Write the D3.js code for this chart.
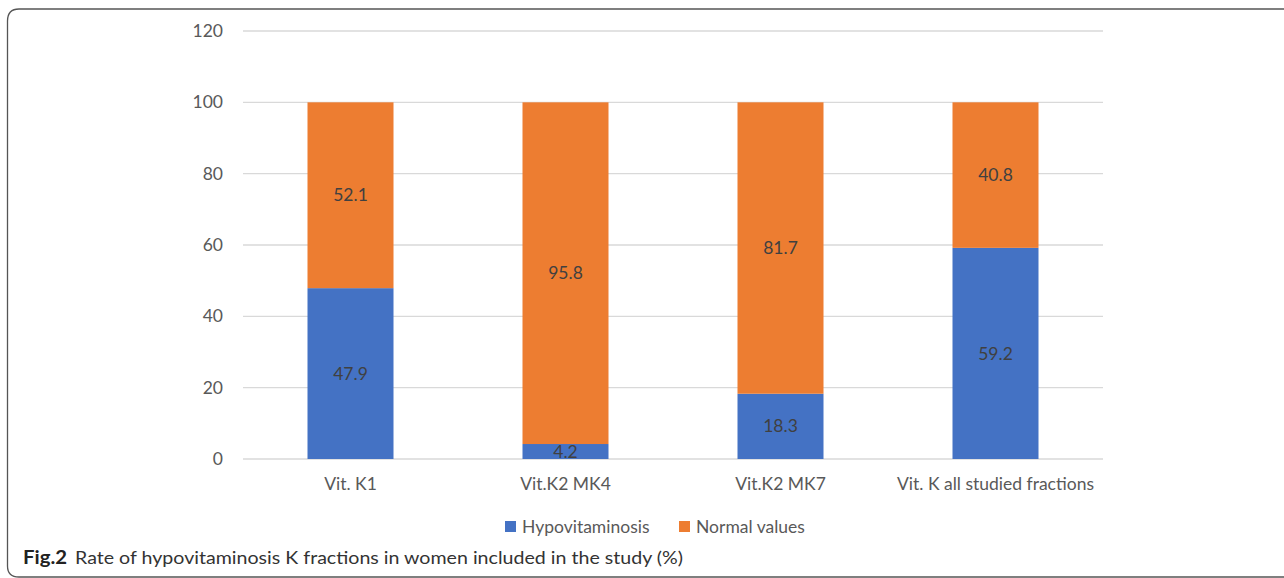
<!DOCTYPE html>
<html>
<head>
<meta charset="utf-8">
<script src="https://cdn.jsdelivr.net/npm/d3@7"></script>
<style>
  html, body { margin: 0; padding: 0; background: #fff; }
  svg { display: block; }
  text { font-family: Lato, "Open Sans", sans-serif; }
</style>
</head>
<body>
<div id="chart"></div>
<script>
// chart data
const categories = ['Vit. K1', 'Vit.K2 MK4', 'Vit.K2 MK7', 'Vit. K all studied fractions']
const hypovitaminosis = [47.9, 4.2, 18.3, 59.2]
const normalValues = [52.1, 95.8, 81.7, 40.8]
const seriesNames = ['Hypovitaminosis', 'Normal values']
const yTicks = [0, 20, 40, 60, 80, 100, 120]

const colors = {'Hypovitaminosis': '#4472C4', 'Normal values': '#ED7D31'}

const W = 1284, H = 578
const m = {l: 243, r: 181, t: 31, b: 119}   // plot area 243..1103, 31..459
const fs = '17.5px'

const svg = d3.select('#chart').append('svg')
    .attr('width', W).attr('height', H)

// frame around the figure (right edge runs off the picture)
svg.append('path')
    .attr('d', 'M1290,9 L19,9 Q7.5,9 7.5,21 L7.5,566 Q7.5,577 19,577 L1290,577')
    .attr('fill', 'none').attr('stroke', '#555').attr('stroke-width', 1.3)

const x = d3.scaleBand().domain(categories)
    .range([m.l, W - m.r]).paddingInner(0.6).paddingOuter(0.3)
const y = d3.scaleLinear().domain([0, 120]).range([H - m.b, m.t])

// gridlines
svg.append('g').selectAll('line').data(yTicks).enter().append('line')
    .attr('x1', m.l).attr('x2', W - m.r)
    .attr('y1', d => y(d)).attr('y2', d => y(d))
    .attr('stroke', '#d9d9d9').attr('stroke-width', 1.3)

// y axis labels
const yAxis = svg.append('g')
    .attr('transform', 'translate(' + (m.l - 20) + ',0)')
    .call(d3.axisLeft(y).tickValues(yTicks).tickSize(0).tickPadding(0))
yAxis.select('.domain').remove()
yAxis.selectAll('text')
    .attr('fill', '#595959').style('font-size', fs)

// stacked bars
const rows = categories.map((c, i) => ({cat: c, 'Hypovitaminosis': hypovitaminosis[i], 'Normal values': normalValues[i]}))
const stacked = d3.stack().keys(seriesNames)(rows)

const layers = svg.append('g').selectAll('g').data(stacked).enter().append('g')
    .attr('fill', d => colors[d.key])

layers.selectAll('rect').data(d => d).enter().append('rect')
    .attr('x', d => x(d.data.cat))
    .attr('width', x.bandwidth())
    .attr('y', d => y(d[1]))
    .attr('height', d => y(d[0]) - y(d[1]))

// value labels in segment centres
layers.selectAll('text').data(d => d.map(s => ({s, key: d.key}))).enter().append('text')
    .attr('x', d => x(d.s.data.cat) + x.bandwidth() / 2)
    .attr('y', d => y((d.s[0] + d.s[1]) / 2))
    .attr('dy', '0.35em')
    .attr('text-anchor', 'middle')
    .attr('fill', '#404040')
    .style('font-size', fs)
    .text(d => d.s.data[d.key].toFixed(1))

// category labels
const xAxis = svg.append('g')
    .attr('transform', 'translate(0,' + (H - m.b) + ')')
    .call(d3.axisBottom(x).tickSize(0).tickPadding(19))
xAxis.select('.domain').remove()
xAxis.selectAll('text')
    .attr('fill', '#595959').style('font-size', fs)

// legend
const legendX = [505, 679]
const legend = svg.append('g').selectAll('g').data(seriesNames).enter().append('g')
    .attr('transform', (d, i) => 'translate(' + legendX[i] + ',527)')
legend.append('rect').attr('x', 0).attr('y', -6).attr('width', 11).attr('height', 11)
    .attr('fill', d => colors[d])
legend.append('text').attr('x', 17).attr('dy', '0.35em')
    .attr('fill', '#595959').style('font-size', fs)
    .text(d => d)

// caption
const cap = svg.append('g').style('font-size', '18px')
cap.append('text').attr('x', 23).attr('y', 564)
    .attr('fill', '#222').attr('font-weight', 'bold')
    .attr('textLength', 44).attr('lengthAdjust', 'spacingAndGlyphs')
    .text('Fig.2')
cap.append('text').attr('x', 75).attr('y', 564)
    .attr('fill', '#333')
    .attr('textLength', 608).attr('lengthAdjust', 'spacingAndGlyphs')
    .text('Rate of hypovitaminosis K fractions in women included in the study (%)')
</script>
</body>
</html>
